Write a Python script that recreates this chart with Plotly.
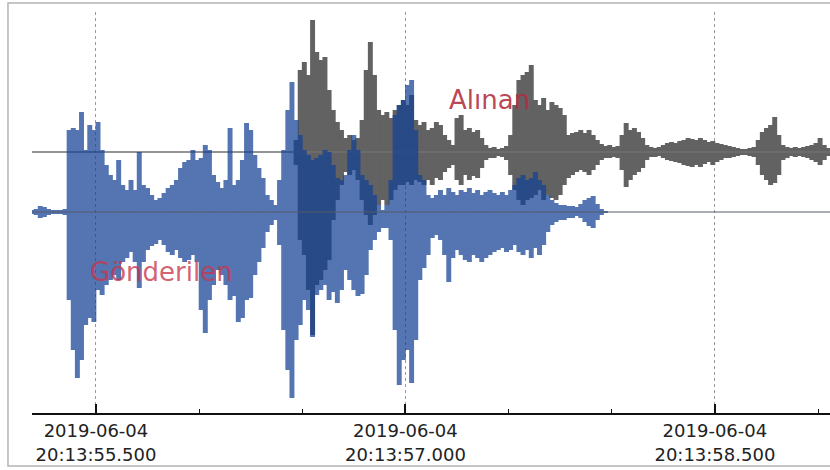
import plotly.graph_objects as go
import pandas as pd

# ---- data (amplitude envelopes, sampled every 20 ms) ----
START = "2019-06-04 20:13:55.190"
STEP_MS = 20
RANGE_END = "2019-06-04 20:13:59.058"
SENT_FIRST = 0     # first sample index of "Gönderilen"
RECV_FIRST = 64    # first sample index of "Alınan"

SENT_TOP = [2, 3, 6, 5, 3, 2, 2, 2, 3,
            82, 84, 82, 100, 62, 87, 82, 90, 62, 47,
            37, 32, 52, 27, 22, 32, 22, 60, 27, 24,
            17, 12, 14, 19, 24, 27, 32, 44, 50, 52,
            62, 52, 54, 67, 62, 37, 30, 24, 32, 84,
            27, 32, 52, 89, 82, 57, 44, 34, 17, 12,
            7, 32, 62, 102, 130, 92, 77, 62, 57, 52,
            54, 57, 62, 60, 47, 34, 32, 37, 62, 77,
            62, 37, 32, 27, 17, 7, 2, 7, 32, 97,
            107, 112, 127, 132, 82, 37, 32, 17, 14, 17,
            22, 17, 24, 20, 17, 22, 20, 24, 19, 22,
            17, 20, 22, 19, 17, 20, 17, 22, 27, 34,
            37, 32, 34, 40, 32, 27, 17, 12, 9, 7,
            7, 6, 6, 5, 8, 12, 14, 16, 8, 3,
            1]
SENT_BOTTOM = [-2, -3, -6, -5, -3, -2, -2, -2, -3,
               -88, -138, -166, -148, -113, -106, -110, -78, -83, -73,
               -68, -63, -68, -50, -46, -40, -50, -76, -50, -38,
               -34, -32, -28, -33, -40, -43, -38, -46, -50, -48,
               -43, -50, -98, -121, -88, -73, -58, -63, -73, -88,
               -84, -110, -106, -88, -86, -63, -50, -36, -20, -13,
               -8, -33, -118, -158, -186, -128, -113, -88, -98, -125,
               -83, -78, -73, -88, -80, -91, -78, -58, -68, -78,
               -84, -82, -63, -38, -28, -20, -16, -16, -28, -118,
               -173, -148, -138, -171, -128, -68, -56, -43, -26, -23,
               -28, -43, -70, -46, -38, -43, -48, -50, -43, -46,
               -50, -46, -43, -40, -38, -36, -40, -38, -33, -40,
               -43, -38, -46, -36, -43, -33, -20, -13, -10, -8,
               -8, -6, -6, -4, -6, -10, -14, -16, -8, -3,
               -1]

RECV_TOP = [12, 82, 90, 77, 132, 100, 92, 95, 62, 42,
            30, 22, 14, 17, 12, 14, 32, 82, 110, 77,
            42, 37, 40, 34, 42, 47, 52, 47, 57, 32,
            27, 30, 22, 24, 30, 27, 17, 12, 7, 34,
            37, 22, 24, 20, 22, 14, 7, 4, 5, 3,
            4, 6, 17, 47, 72, 77, 80, 87, 52, 47,
            54, 42, 50, 47, 44, 37, 17, 19, 20, 22,
            19, 22, 17, 12, 8, 6, 7, 5, 6, 17,
            29, 22, 24, 20, 14, 7, 5, 4, 5, 7,
            9, 10, 9, 11, 12, 14, 13, 12, 14, 12,
            10, 11, 9, 8, 7, 6, 5, 4, 3, 3,
            4, 5, 12, 20, 24, 27, 35, 17, 7, 5,
            4, 5, 4, 5, 6, 7, 9, 14, 7, 4, 3]
RECV_BOTTOM = [-13, -88, -103, -138, -183, -133, -128, -118, -108, -68,
               -48, -33, -20, -23, -18, -28, -48, -63, -73, -63,
               -53, -48, -53, -48, -38, -33, -33, -30, -33, -28,
               -30, -33, -28, -33, -26, -28, -20, -16, -13, -28,
               -33, -23, -28, -24, -26, -16, -8, -6, -6, -4,
               -5, -8, -23, -38, -48, -53, -48, -46, -43, -38,
               -48, -43, -46, -48, -43, -33, -26, -23, -20, -18,
               -20, -23, -18, -13, -8, -6, -6, -5, -6, -18,
               -35, -28, -23, -20, -16, -8, -5, -5, -4, -6,
               -8, -9, -10, -11, -13, -14, -15, -13, -15, -12,
               -10, -13, -10, -8, -6, -6, -5, -4, -3, -3,
               -4, -5, -13, -23, -28, -33, -31, -23, -8, -6,
               -4, -5, -4, -5, -6, -8, -10, -13, -8, -4, -3]

LABEL_SENT = "Gönderilen"
LABEL_RECV = "Alınan"

# ---- build ----
t0 = pd.Timestamp(START)


def times(first, n):
    return [t0 + pd.Timedelta(milliseconds=STEP_MS * (first + k)) for k in range(n)]


fig = go.Figure()
x_full = [t0, pd.Timestamp(RANGE_END)]

# received (gray) channel on y
fig.add_trace(go.Scatter(x=x_full, y=[0, 0], mode="lines",
                         line=dict(color="rgb(112,112,112)", width=1.5),
                         hoverinfo="skip", yaxis="y"))
fig.add_trace(go.Bar(x=times(RECV_FIRST, len(RECV_TOP)),
                     base=RECV_BOTTOM,
                     y=[t - b for t, b in zip(RECV_TOP, RECV_BOTTOM)],
                     width=STEP_MS * 1.2,
                     marker=dict(color="rgb(98,98,98)", line=dict(width=0)),
                     name=LABEL_RECV, yaxis="y"))

# sent (blue) channel on y2 (drawn above, translucent as a whole)
fig.add_trace(go.Scatter(x=x_full, y=[0, 0], mode="lines",
                         line=dict(color="rgb(85,90,105)", width=1),
                         hoverinfo="skip", yaxis="y2"))
fig.add_trace(go.Bar(x=times(SENT_FIRST, len(SENT_TOP)),
                     base=SENT_BOTTOM,
                     y=[t - b for t, b in zip(SENT_TOP, SENT_BOTTOM)],
                     width=STEP_MS * 1.2, opacity=0.72,
                     marker=dict(color="rgb(19,65,148)", line=dict(width=0)),
                     name=LABEL_SENT, yaxis="y2"))

fig.update_layout(
    width=830, height=470,
    margin=dict(l=32, r=0, t=12, b=57),
    paper_bgcolor="white", plot_bgcolor="white",
    showlegend=False, barmode="overlay",
    font=dict(family="DejaVu Sans", size=18, color="#222"),
    xaxis=dict(
        type="date",
        range=[START, RANGE_END],
        tick0="2019-06-04 20:13:55.5", dtick=1500,
        tickformat="%Y-%m-%d<br>%H:%M:%S.%L",
        ticks="inside", ticklen=9, tickwidth=1.5, tickcolor="#111",
        ticklabelstandoff=1,
        showline=True, linecolor="#111", linewidth=1.5,
        showgrid=True, griddash="dot", gridcolor="#9a9a9a", gridwidth=1,
        zeroline=False,
        minor=dict(dtick=500, tick0="2019-06-04 20:13:55.5", ticks="inside",
                   ticklen=4, tickwidth=1.2, tickcolor="#111", showgrid=False),
        tickfont=dict(family="DejaVu Sans", size=18, color="#222"),
    ),
    yaxis=dict(range=[-261, 140], visible=False, fixedrange=True),
    yaxis2=dict(range=[-201, 200], visible=False, overlaying="y", fixedrange=True),
    shapes=[dict(type="rect", xref="paper", yref="paper",
                 x0=-0.0301, x1=1.02, y0=-0.1322, y1=1.0224,
                 line=dict(color="#b4b4b4", width=1.5))],
    annotations=[
        dict(text=LABEL_RECV, xref="paper", yref="paper", x=0.5727, y=0.7805,
             xanchor="center", yanchor="middle",
             showarrow=False, font=dict(family="DejaVu Sans", size=26,
                                        color="rgba(178,45,65,0.9)")),
        dict(text=LABEL_SENT, xref="paper", yref="paper", x=0.1629, y=0.3516,
             xanchor="center", yanchor="middle",
             showarrow=False, font=dict(family="DejaVu Sans", size=26,
                                        color="rgba(200,55,75,0.8)")),
    ],
)

fig.write_html("out.html", config={"displayModeBar": False},
               post_script="document.body.style.margin='0px';document.body.style.overflow='hidden';")
